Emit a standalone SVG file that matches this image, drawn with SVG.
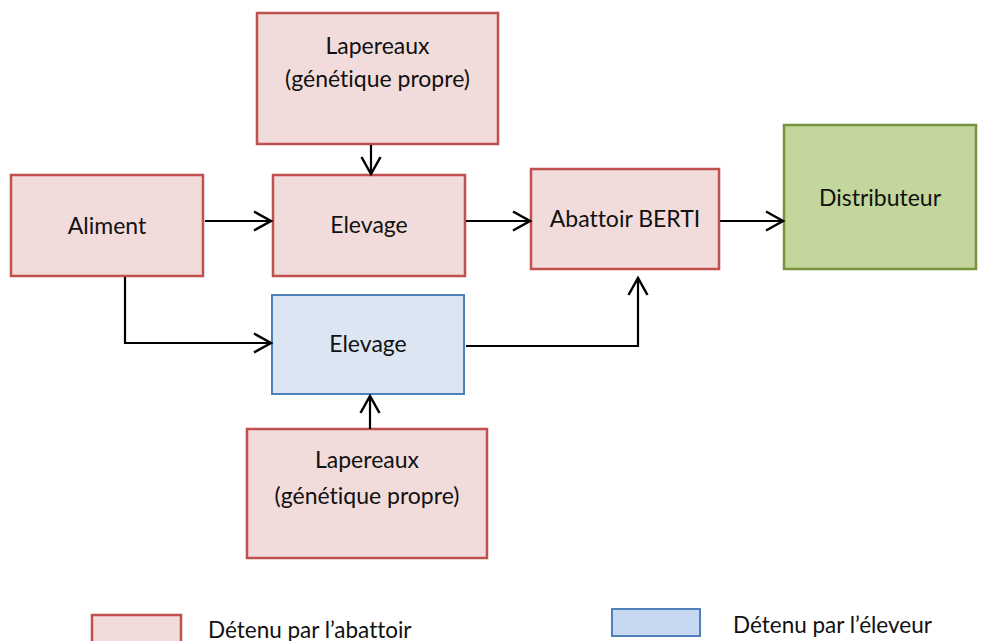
<svg xmlns="http://www.w3.org/2000/svg" width="986" height="641" viewBox="0 0 986 641">
<style>
.pink{fill:#F2DCDB;stroke:#C0504D;stroke-width:2.5}
.blue{fill:#DCE6F2;stroke:#4F81BD;stroke-width:2}
.green{fill:#C3D69B;stroke:#77933C;stroke-width:2.5}
.lbl{font-family:Lato,"Liberation Sans",sans-serif;font-size:23px;fill:#111;text-anchor:middle;font-variant-ligatures:none}
.leg{font-family:Lato,"Liberation Sans",sans-serif;font-size:22.5px;fill:#111;font-variant-ligatures:none}
.c{fill:none;stroke:#000;stroke-width:2.2}
</style>
<defs>
<marker id="ah" markerUnits="userSpaceOnUse" markerWidth="24" markerHeight="24" viewBox="-20 -12 24 24" refX="0" refY="0" orient="auto">
<path d="M-17,-9.5 L0,0 L-17,9.5" fill="none" stroke="#000" stroke-width="2.5"/>
</marker>
</defs>
<rect width="986" height="641" fill="#fff"/>
<g id="lapereaux-top">
<rect class="pink" x="257" y="13" width="241" height="131"/>
<text class="lbl" x="377.5" y="54">Lapereaux</text>
<text class="lbl" x="377.5" y="87">(génétique propre)</text>
</g>
<g id="aliment">
<rect class="pink" x="11" y="175" width="192" height="101"/>
<text class="lbl" x="107" y="234">Aliment</text>
</g>
<g id="elevage-abattoir">
<rect class="pink" x="273" y="175" width="192" height="101"/>
<text class="lbl" x="369" y="233">Elevage</text>
</g>
<g id="abattoir">
<rect class="pink" x="531" y="169" width="188" height="100"/>
<text class="lbl" x="625" y="227">Abattoir BERTI</text>
</g>
<g id="distributeur">
<rect class="green" x="784" y="125" width="192" height="144"/>
<text class="lbl" x="880" y="206">Distributeur</text>
</g>
<g id="elevage-eleveur">
<rect class="blue" x="272" y="295" width="192" height="99"/>
<text class="lbl" x="368" y="352">Elevage</text>
</g>
<g id="lapereaux-bottom">
<rect class="pink" x="247" y="429" width="240" height="129"/>
<text class="lbl" x="367" y="468">Lapereaux</text>
<text class="lbl" x="367" y="504">(génétique propre)</text>
</g>
<g id="connectors">
<path class="c" d="M371,145 L371,174" marker-end="url(#ah)"/>
<path class="c" d="M205,221 L271,221" marker-end="url(#ah)"/>
<path class="c" d="M125,277 L125,343 L271,343" marker-end="url(#ah)"/>
<path class="c" d="M466,221 L530,221" marker-end="url(#ah)"/>
<path class="c" d="M720,221 L783,221" marker-end="url(#ah)"/>
<path class="c" d="M466,346 L638,346 L638,278" marker-end="url(#ah)"/>
<path class="c" d="M370,429 L370,396" marker-end="url(#ah)"/>
</g>
<g id="legend">
<rect class="pink" x="92" y="615" width="89" height="30"/>
<text class="leg" x="208" y="638">Détenu par l’abattoir</text>
<rect x="612" y="609" width="88" height="27" fill="#C6D9F1" stroke="#4F81BD" stroke-width="2"/>
<text class="leg" x="733" y="633">Détenu par l’éleveur</text>
</g>
</svg>
